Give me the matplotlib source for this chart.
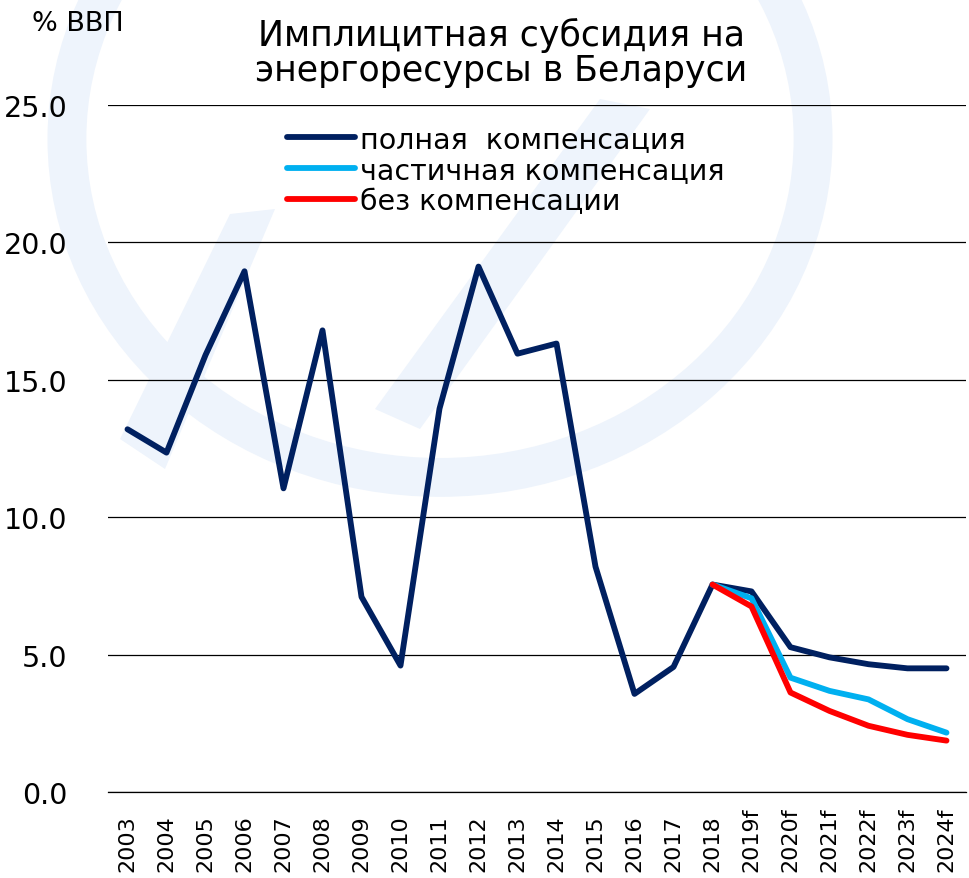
import numpy as np
import matplotlib
matplotlib.use('Agg')
import matplotlib.pyplot as plt
from matplotlib.patches import Circle, Polygon

plt.rcParams['font.family'] = ['DejaVu Sans']

years = ['2003', '2004', '2005', '2006', '2007', '2008', '2009', '2010', '2011',
         '2012', '2013', '2014', '2015', '2016', '2017', '2018', '2019f',
         '2020f', '2021f', '2022f', '2023f', '2024f']

full = [13.2, 12.35, 15.9, 18.95, 11.05, 16.8, 7.1, 4.6, 13.95, 19.12, 15.95,
        16.32, 8.2, 3.57, 4.55, 7.55, 7.3, 5.27, 4.9, 4.65, 4.5, 4.5]

# частичная и без компенсации начинаются с 2018
partial_years = ['2018', '2019f', '2020f', '2021f', '2022f', '2023f', '2024f']
partial = [7.55, 7.05, 4.16, 3.68, 3.37, 2.65, 2.16]
none_comp = [7.55, 6.75, 3.62, 2.95, 2.41, 2.08, 1.87]

legend_labels = ['полная  компенсация', 'частичная компенсация', 'без компенсации']

W, H = 969, 879
fig = plt.figure(figsize=(W / 100, H / 100), dpi=100)

# бледный логотип на фоне
wm = '#eef4fc'
fig.patches.append(Circle((440 / W, 1 - 140 / H), 0.385, transform=fig.transFigure,
                          facecolor='none', edgecolor=wm, linewidth=28, zorder=0))
fig.patches.append(Polygon([(230 / W, 1 - 215 / H), (275 / W, 1 - 210 / H),
                            (165 / W, 1 - 470 / H), (120 / W, 1 - 440 / H)],
                           closed=True, transform=fig.transFigure,
                           facecolor=wm, edgecolor='none', zorder=0))
fig.patches.append(Polygon([(600 / W, 1 - 100 / H), (650 / W, 1 - 110 / H),
                            (420 / W, 1 - 430 / H), (375 / W, 1 - 410 / H)],
                           closed=True, transform=fig.transFigure,
                           facecolor=wm, edgecolor='none', zorder=0))

ax = fig.add_axes([108 / W, (H - 793) / H, (966 - 108) / W, (793 - 106) / H])
ax.set_facecolor('none')
ax.set_zorder(2)

x = np.arange(len(years))
xp = np.array([years.index(y) for y in partial_years])

ax.plot(x, full, color='#002060', lw=4.2, solid_joinstyle='round',
        solid_capstyle='round', label=legend_labels[0], zorder=3)
ax.plot(xp, partial, color='#00B0F0', lw=4.2, solid_joinstyle='round',
        solid_capstyle='round', label=legend_labels[1], zorder=4)
ax.plot(xp, none_comp, color='#FF0000', lw=4.2, solid_joinstyle='round',
        solid_capstyle='round', label=legend_labels[2], zorder=5)

ax.set_xlim(-0.5, len(years) - 0.5)
ax.set_ylim(0, 25)
ax.set_yticks([0, 5, 10, 15, 20, 25])
ax.set_yticklabels([f'{v:.1f}' for v in [0, 5, 10, 15, 20, 25]])
ax.set_xticks(x)
ax.set_xticklabels(years, rotation=90)
ax.tick_params(axis='y', length=0, pad=29, labelsize=20.5)
# подписи годов начинаются снизу, у общей линии
ax.tick_params(axis='x', length=0, pad=57, labelsize=16)
for lbl in ax.get_xticklabels():
    lbl.set_rotation_mode('anchor')
    lbl.set_ha('left')
    lbl.set_va('center')
ax.yaxis.grid(True, color='black', linewidth=0.9)
for s in ['top', 'right', 'left']:
    ax.spines[s].set_visible(False)
ax.spines['bottom'].set_linewidth(0.9)

leg = ax.legend(loc='upper left', bbox_to_anchor=(287 / W, 1 - 126 / H),
                bbox_transform=fig.transFigure, frameon=False, fontsize=20.5,
                handlelength=2.4, handletextpad=0.15, labelspacing=0.1,
                borderaxespad=0, borderpad=0)

fig.text(32 / W, 1 - 24 / H, '% ВВП', fontsize=19.5, va='center', ha='left')
fig.text(501 / W, 1 - 53 / H, 'Имплицитная субсидия на\nэнергоресурсы в Беларуси',
         fontsize=25, ha='center', va='center', linespacing=1.05)

fig.savefig('out.png', dpi=100)
